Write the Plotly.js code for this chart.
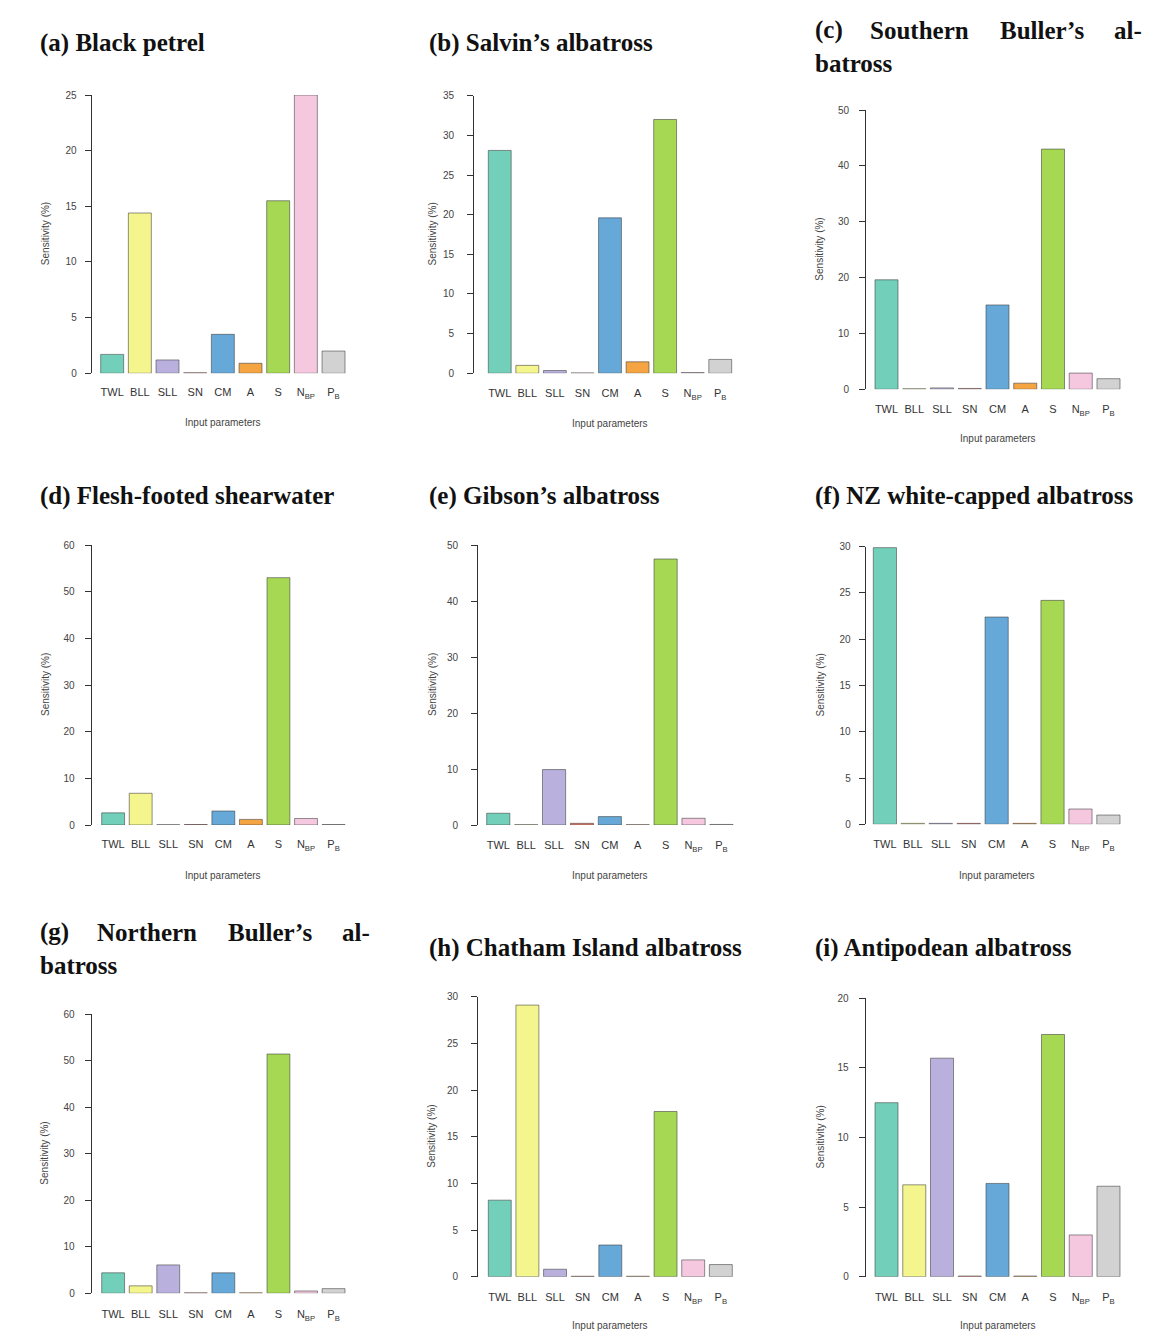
<!DOCTYPE html>
<html>
<head>
<meta charset="utf-8">
<script src="https://cdn.plot.ly/plotly-3.0.1.min.js"></script>
<style>html,body{margin:0;padding:0;background:#fff;}#chart{width:1174px;height:1342px;}</style>
</head>
<body>
<div id="chart"></div>
<script>
// ---- data ----
const params = ['TWL', 'BLL', 'SLL', 'SN', 'CM', 'A', 'S', 'N<sub>BP</sub>', 'P<sub>B</sub>'];
const blackPetrel      = [1.7, 14.4, 1.2, 0.05, 3.5, 0.9, 15.5, 25.0, 2.0];
const salvinsAlbatross = [28.1, 1.0, 0.35, 0.05, 19.6, 1.45, 32.0, 0.1, 1.75];
const southernBullers  = [19.6, 0.1, 0.25, 0.15, 15.1, 1.1, 43.0, 2.9, 1.9];
const fleshFooted      = [2.6, 6.8, 0.05, 0.1, 3.0, 1.2, 53.0, 1.4, 0.1];
const gibsonsAlbatross = [2.1, 0.05, 9.9, 0.3, 1.5, 0.05, 47.5, 1.2, 0.1];
const nzWhiteCapped    = [29.9, 0.1, 0.1, 0.1, 22.4, 0.1, 24.2, 1.65, 1.0];
const northernBullers  = [4.4, 1.6, 6.1, 0.1, 4.4, 0.1, 51.4, 0.5, 1.0];
const chathamIsland    = [8.2, 29.1, 0.8, 0.05, 3.4, 0.05, 17.7, 1.8, 1.3];
const antipodean       = [12.5, 6.6, 15.7, 0.05, 6.7, 0.05, 17.4, 3.0, 6.5];
const paramColors = ['#72d0ba', '#f4f58c', '#b9b0de', '#f08070', '#66a9d8', '#f5a442', '#a6d853', '#f5c8e0', '#d2d2d2'];
const yTitle = 'Sensitivity (%)';
const xTitle = 'Input parameters';

// ---- layout geometry (pixels) ----
const W = 1174, H = 1342;
const panels = [
  {data: blackPetrel,      ymax: 25, dtick: 5,  axisX: 91.7,  barL: 100.7, barR: 345,   y0: 373.3, yTop: 95,    gap: 6,  xlabY: 393, xtitleY: 422, ytitleX: 45},
  {data: salvinsAlbatross, ymax: 35, dtick: 5,  axisX: 474,   barL: 488.3, barR: 731.7, y0: 373.3, yTop: 95.7,  gap: 11, xlabY: 394, xtitleY: 423, ytitleX: 432},
  {data: southernBullers,  ymax: 50, dtick: 10, axisX: 866,   barL: 875,   barR: 1120,  y0: 389.3, yTop: 110,   gap: 8,  xlabY: 410, xtitleY: 438, ytitleX: 820},
  {data: fleshFooted,      ymax: 60, dtick: 10, axisX: 91.7,  barL: 101.7, barR: 345,   y0: 825,   yTop: 545,   gap: 8,  xlabY: 845, xtitleY: 875, ytitleX: 45},
  {data: gibsonsAlbatross, ymax: 50, dtick: 10, axisX: 478,   barL: 486.7, barR: 733,   y0: 825,   yTop: 545,   gap: 11, xlabY: 846, xtitleY: 875, ytitleX: 432},
  {data: nzWhiteCapped,    ymax: 30, dtick: 5,  axisX: 865.7, barL: 873.3, barR: 1120,  y0: 824.3, yTop: 546.7, gap: 6,  xlabY: 845, xtitleY: 875, ytitleX: 820},
  {data: northernBullers,  ymax: 60, dtick: 10, axisX: 91.7,  barL: 101.7, barR: 345,   y0: 1293.3,yTop: 1014,  gap: 8,  xlabY: 1315, xtitleY: null, ytitleX: 45},
  {data: chathamIsland,    ymax: 30, dtick: 5,  axisX: 478,   barL: 488.3, barR: 732.3, y0: 1276.7,yTop: 996.7, gap: 11, xlabY: 1298, xtitleY: 1325, ytitleX: 432},
  {data: antipodean,       ymax: 20, dtick: 5,  axisX: 865.7, barL: 875,   barR: 1120,  y0: 1276.7,yTop: 998.3, gap: 8,  xlabY: 1298, xtitleY: 1325, ytitleX: 820}
];
const titles = [
  {text: '(a) Black petrel', x: 38, y: 43},
  {text: '(b) Salvin’s albatross', x: 427, y: 43},
  {text: '(c)', x: 813, y: 30}, {text: 'Southern', x: 868, y: 30}, {text: 'Buller’s', x: 998, y: 30}, {text: 'al-', x: 1112, y: 30},
  {text: 'batross', x: 813, y: 63},
  {text: '(d) Flesh-footed shearwater', x: 38, y: 496},
  {text: '(e) Gibson’s albatross', x: 427, y: 496},
  {text: '(f) NZ white-capped albatross', x: 813, y: 496},
  {text: '(g)', x: 38, y: 932}, {text: 'Northern', x: 95, y: 932}, {text: 'Buller’s', x: 226, y: 932}, {text: 'al-', x: 340, y: 932},
  {text: 'batross', x: 38, y: 965},
  {text: '(h) Chatham Island albatross', x: 427, y: 948},
  {text: '(i) Antipodean albatross', x: 813, y: 948}
];

const fx = p => p / W;
const fy = p => 1 - p / H;
const barW = 0.83;
const traces = [];
const layout = {
  width: W, height: H,
  margin: {l: 0, r: 0, t: 0, b: 0},
  paper_bgcolor: '#ffffff', plot_bgcolor: 'rgba(0,0,0,0)',
  showlegend: false,
  font: {family: 'Liberation Sans, Arial, sans-serif', color: '#333'},
  annotations: []
};

panels.forEach((p, i) => {
  const n = i + 1;
  const xa = 'x' + (n === 1 ? '' : n), ya = 'y' + (n === 1 ? '' : n);
  const xKey = 'xaxis' + (n === 1 ? '' : n), yKey = 'yaxis' + (n === 1 ? '' : n);
  const pitch = (p.barR - p.barL) / (8 + barW);
  const r0 = -barW / 2 - (p.barL - p.axisX) / pitch;
  const r1 = 8 + barW / 2 + 0.15;
  const domR = p.barR + 0.15 * pitch;
  traces.push({
    type: 'bar', x: params, y: p.data, xaxis: xa, yaxis: ya, width: barW,
    marker: {color: paramColors, line: {color: 'rgba(60,60,60,0.7)', width: 0.8}},
    hoverinfo: 'x+y', cliponaxis: false
  });
  layout[xKey] = {
    domain: [fx(p.axisX), fx(domR)], anchor: ya, type: 'category',
    range: [r0, r1], showline: false, zeroline: false, showgrid: false,
    ticks: 'outside', ticklen: p.xlabY - p.y0 - 11, tickcolor: 'rgba(0,0,0,0)',
    tickfont: {size: 11, color: '#333'}, fixedrange: true
  };
  layout[yKey] = {
    domain: [fy(p.y0), fy(p.yTop)], anchor: xa, range: [0, p.ymax], dtick: p.dtick,
    showline: true, linecolor: '#333', linewidth: 1, zeroline: false, showgrid: false,
    ticks: 'outside', ticklen: 6, tickcolor: '#333', tickwidth: 1,
    ticklabelstandoff: p.gap,
    tickfont: {size: 10, color: '#444'}, fixedrange: true
  };
  layout.annotations.push({
    xref: 'paper', yref: 'paper', x: fx(p.ytitleX), y: fy((p.y0 + p.yTop) / 2),
    text: yTitle, textangle: -90, showarrow: false, xanchor: 'center', yanchor: 'middle',
    font: {size: 10, color: '#444'}
  });
  if (p.xtitleY !== null) {
    layout.annotations.push({
      xref: 'paper', yref: 'paper', x: fx((p.barL + p.barR) / 2), y: fy(p.xtitleY),
      text: xTitle, showarrow: false, xanchor: 'center', yanchor: 'middle',
      font: {size: 10, color: '#444'}
    });
  }
});

titles.forEach(t => {
  layout.annotations.push({
    xref: 'paper', yref: 'paper', x: fx(t.x), y: fy(t.y),
    text: '<b>' + t.text + '</b>', showarrow: false, xanchor: 'left', yanchor: 'middle',
    font: {family: 'Liberation Serif, Times New Roman, serif', size: 25, color: '#111'}
  });
});

Plotly.newPlot('chart', traces, layout, {staticPlot: true, displayModeBar: false});
</script>
</body>
</html>
